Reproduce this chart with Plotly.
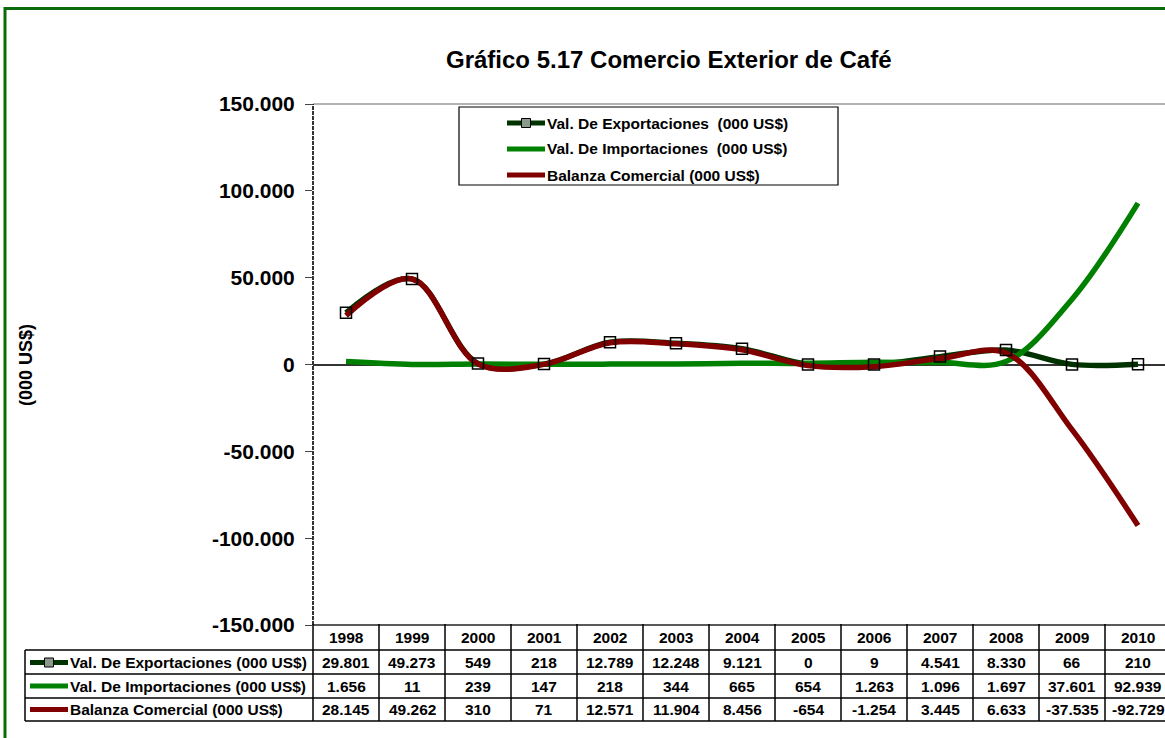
import plotly.graph_objects as go

YEARS = [1998, 1999, 2000, 2001, 2002, 2003, 2004, 2005, 2006, 2007, 2008, 2009, 2010]
EXPORTS = [29801, 49273, 549, 218, 12789, 12248, 9121, 0, 9, 4541, 8330, 66, 210]
IMPORTS = [1656, 11, 239, 147, 218, 344, 665, 654, 1263, 1096, 1697, 37601, 92939]
BALANCE = [28145, 49262, 310, 71, 12571, 11904, 8456, -654, -1254, 3445, 6633, -37535, -92729]

SERIES_NAMES = [
    "Val. De Exportaciones (000 US$)",
    "Val. De Importaciones (000 US$)",
    "Balanza Comercial (000 US$)",
]
LEGEND_NAMES = [
    "Val. De Exportaciones \u00a0(000 US$)",
    "Val. De Importaciones \u00a0(000 US$)",
    "Balanza Comercial (000 US$)",
]
Y_TICKS = [-150000, -100000, -50000, 0, 50000, 100000, 150000]
Y_TICK_LABELS = ["-150.000", "-100.000", "-50.000", "0", "50.000", "100.000", "150.000"]
TITLE = "Gráfico 5.17 Comercio Exterior de Café"
Y_TITLE = "(000 US$)"

COLORS = ["#003300", "#008000", "#800000"]
FONT = "Liberation Sans, Arial, sans-serif"

# pixel frame of the plot area (right side runs off the page, as in the source)
PLOT_L, PLOT_T, PLOT_R, PLOT_B = 313, 104, 1165, 625
COL_W = 66


def px_x(p):
    return (p - PLOT_L) / (PLOT_R - PLOT_L)


def px_y(p):
    return (PLOT_B - p) / (PLOT_B - PLOT_T)


def fmt(v):
    return f"{v:,}".replace(",", ".")


def label(x, y, text, size, xref="paper", xanchor="center", **kw):
    return dict(x=x, xref=xref, y=px_y(y), yref="paper", text=text, showarrow=False,
                xanchor=xanchor, yanchor="middle", font=dict(size=size, weight="bold"), **kw)


fig = go.Figure()
for name, values, color in zip(SERIES_NAMES, [EXPORTS, IMPORTS, BALANCE], COLORS):
    fig.add_trace(
        go.Scatter(
            x=YEARS,
            y=values,
            name=name,
            mode="lines",
            line=dict(color=color, width=5.5, shape="spline", smoothing=1),
        )
    )
# export markers sit on top of all lines
fig.add_trace(
    go.Scatter(
        x=YEARS,
        y=EXPORTS,
        mode="markers",
        marker=dict(symbol="square-open", size=11, color="black", line=dict(width=1.5)),
    )
)

shapes = []
annotations = []

# page border and plot frame
shapes.append(dict(type="rect", xref="paper", yref="paper", x0=px_x(5), x1=px_x(1200),
                   y0=px_y(800), y1=px_y(8.5), line=dict(color="#0b6b0b", width=3)))
shapes.append(dict(type="line", xref="paper", yref="paper", x0=0, x1=1, y0=1, y1=1,
                   line=dict(color="#9a9a9a", width=1.5)))
shapes.append(dict(type="line", xref="paper", yref="paper", x0=0, x1=0, y0=0, y1=1,
                   line=dict(color="#333", width=2, dash="4px,1px")))

# data table under the chart
row_lines = [650, 674, 698, 721]
row_mid = [662.5, 686, 709.5]
tbl_left = 25
shapes.append(dict(type="line", xref="paper", yref="paper", x0=0, x1=1, y0=0, y1=0,
                   line=dict(color="#222", width=1.5)))
for yl in row_lines:
    shapes.append(dict(type="line", xref="paper", yref="paper", x0=px_x(tbl_left), x1=1,
                       y0=px_y(yl), y1=px_y(yl), line=dict(color="black", width=1.5)))
shapes.append(dict(type="line", xref="paper", yref="paper", x0=px_x(tbl_left), x1=px_x(tbl_left),
                   y0=px_y(650), y1=px_y(721), line=dict(color="black", width=1.5)))
shapes.append(dict(type="line", xref="paper", yref="paper", x0=0, x1=0,
                   y0=px_y(624), y1=px_y(721), line=dict(color="black", width=1.5)))
for yr in YEARS:
    shapes.append(dict(type="line", xref="x", yref="paper", x0=yr + 0.5, x1=yr + 0.5,
                       y0=px_y(624), y1=px_y(721), line=dict(color="black", width=1.5)))
    annotations.append(label(yr, 637, str(yr), 15.5, xref="x"))
for values, ym in zip([EXPORTS, IMPORTS, BALANCE], row_mid):
    for yr, v in zip(YEARS, values):
        annotations.append(label(yr, ym, fmt(v), 15.5, xref="x"))


def add_key(x0, x1, yc, color, with_marker, text, tx):
    shapes.append(dict(type="line", xref="paper", yref="paper", x0=px_x(x0), x1=px_x(x1),
                       y0=px_y(yc), y1=px_y(yc), line=dict(color=color, width=5)))
    if with_marker:
        xm = (x0 + x1) / 2
        shapes.append(dict(type="rect", xref="paper", yref="paper", x0=px_x(xm - 4.5),
                           x1=px_x(xm + 4.5), y0=px_y(yc + 4.5), y1=px_y(yc - 4.5),
                           fillcolor="#8c9a8c", line=dict(color="black", width=1)))
    annotations.append(label(px_x(tx), yc, text, 15.5, xanchor="left"))


for i, (name, ym) in enumerate(zip(SERIES_NAMES, row_mid)):
    add_key(30, 68, ym, COLORS[i], i == 0, name, 68)

# legend box
shapes.append(dict(type="rect", xref="paper", yref="paper", x0=px_x(459), x1=px_x(838),
                   y0=px_y(185), y1=px_y(107), fillcolor="white",
                   line=dict(color="black", width=1.2)))
for i, (name, ym) in enumerate(zip(LEGEND_NAMES, [123, 149, 175])):
    add_key(507, 545, ym, COLORS[i], i == 0, name, 545)

annotations.append(label(px_x(669), 59, TITLE, 24))
annotations.append(label(px_x(26), 365, Y_TITLE, 18, textangle=-90))

fig.update_layout(
    width=1165,
    height=738,
    margin=dict(l=PLOT_L, r=0, t=PLOT_T, b=738 - PLOT_B),
    paper_bgcolor="white",
    plot_bgcolor="white",
    showlegend=False,
    font=dict(family=FONT, color="black"),
    shapes=shapes,
    annotations=annotations,
    xaxis=dict(
        range=[YEARS[0] - 0.5, YEARS[0] - 0.5 + (PLOT_R - PLOT_L) / COL_W],
        showticklabels=False,
        showgrid=False,
        zeroline=False,
        showline=False,
        ticks="",
    ),
    yaxis=dict(
        range=[-150000, 150000],
        tickvals=Y_TICKS,
        ticktext=Y_TICK_LABELS,
        tickfont=dict(size=21, weight="bold"),
        ticks="outside",
        ticklen=7,
        tickcolor="#444",
        ticklabelstandoff=6,
        showgrid=False,
        showline=False,
        zeroline=True,
        zerolinecolor="#333",
        zerolinewidth=1.5,
    ),
)

fig.write_html(
    "out.html",
    config={"displayModeBar": False},
    post_script="document.body.style.margin='0';",
)
